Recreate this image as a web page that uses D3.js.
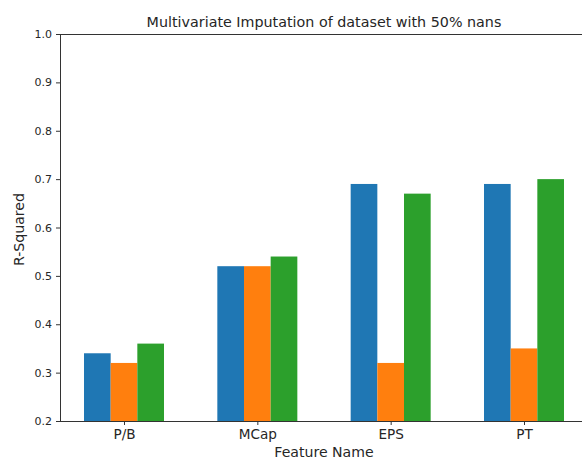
<!DOCTYPE html>
<html>
<head>
<meta charset="utf-8">
<script src="https://cdn.jsdelivr.net/npm/d3@7"></script>
<style>
  html, body { margin: 0; padding: 0; background: #fff; }
  svg { display: block; font-family: "DejaVu Sans", sans-serif; }
</style>
</head>
<body>
<svg id="chart" width="582" height="460"></svg>
<script>
// Feature groups and the R-squared score of each imputation run
const features = ["P/B", "MCap", "EPS", "PT"];
const seriesA = [0.34, 0.52, 0.69, 0.69];
const seriesB = [0.32, 0.52, 0.32, 0.35];
const seriesC = [0.36, 0.54, 0.67, 0.70];
const yTicks = [0.2, 0.3, 0.4, 0.5, 0.6, 0.7, 0.8, 0.9, 1.0];
const colors = ["#1f77b4", "#ff7f0e", "#2ca02c"];

const series = [seriesA, seriesB, seriesC];
const barWidth = 0.2;
const offsets = [-0.2, 0, 0.2];

const svg = d3.select("#chart");
const plotLeft = 60, plotRight = 588, plotTop = 34, plotBottom = 421;

// numeric x scale in category units, with 5% padding like a default bar plot
const x = d3.scaleLinear().domain([-0.48, 3.48]).range([plotLeft, plotRight]);
const y = d3.scaleLinear().domain([0.2, 1.0]).range([plotBottom, plotTop]);

// bars
series.forEach((vals, s) => {
  svg.append("g")
    .selectAll("rect")
    .data(vals)
    .join("rect")
    .attr("x", (d, i) => x(i + offsets[s] - barWidth / 2))
    .attr("width", (d, i) => x(i + offsets[s] + barWidth / 2) - x(i + offsets[s] - barWidth / 2))
    .attr("y", d => y(d))
    .attr("height", d => y(0.2) - y(d))
    .attr("fill", colors[s]);
});

// y axis
const yAxis = svg.append("g")
  .attr("transform", `translate(${plotLeft},0)`)
  .call(d3.axisLeft(y).tickValues(yTicks).tickFormat(d3.format(".1f")).tickSize(4).tickPadding(4));
yAxis.selectAll("text").attr("font-size", 11).attr("fill", "#262626").attr("font-family", "DejaVu Sans");
yAxis.selectAll("line").attr("stroke", "#333");
yAxis.select(".domain").attr("stroke", "#333").attr("d", `M0.5,${plotTop}V${plotBottom}`);

// x axis
const xAxis = svg.append("g")
  .attr("transform", `translate(0,${plotBottom})`)
  .call(d3.axisBottom(x).tickValues([0, 1, 2, 3]).tickFormat(i => features[i]).tickSize(4).tickPadding(4));
xAxis.selectAll("text").attr("font-size", 13.6).attr("fill", "#262626").attr("font-family", "DejaVu Sans");
xAxis.selectAll("line").attr("stroke", "#333");
xAxis.select(".domain").attr("stroke", "#333").attr("d", `M${plotLeft},0.5H${plotRight}`);

// top spine
svg.append("line")
  .attr("x1", plotLeft).attr("x2", plotRight)
  .attr("y1", plotTop + 0.5).attr("y2", plotTop + 0.5)
  .attr("stroke", "#333");

// title
svg.append("text")
  .attr("x", (plotLeft + plotRight) / 2)
  .attr("y", 27)
  .attr("text-anchor", "middle")
  .attr("font-size", 14.3)
  .attr("fill", "#262626")
  .text("Multivariate Imputation of dataset with 50% nans");

// axis labels
svg.append("text")
  .attr("x", (plotLeft + plotRight) / 2)
  .attr("y", 457)
  .attr("text-anchor", "middle")
  .attr("font-size", 14.1)
  .attr("fill", "#262626")
  .text("Feature Name");

svg.append("text")
  .attr("transform", `translate(24,${(plotTop + plotBottom) / 2 + 2}) rotate(-90)`)
  .attr("text-anchor", "middle")
  .attr("font-size", 14.1)
  .attr("fill", "#262626")
  .text("R-Squared");
</script>
</body>
</html>
